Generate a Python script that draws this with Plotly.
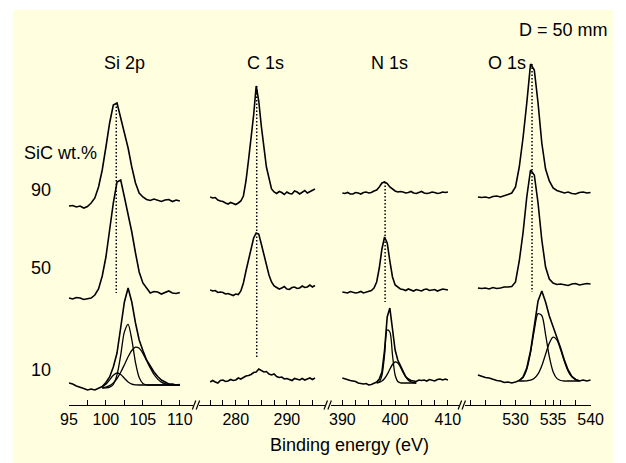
import plotly.graph_objects as go

W, H = 626, 463
AXIS_Y = 405  # pixel row of the energy axis line

# ---------------- XPS data (intensity in a.u., before stacking) ----------------
si_energy = [95.0, 95.5, 96.0, 96.5, 97.0, 97.5, 98.0, 98.5, 99.0, 99.5, 100.0, 100.5,
             101.0, 101.5, 102.0, 102.5, 103.0, 103.5, 104.0, 104.5, 105.0, 105.5, 106.0,
             106.5, 107.0, 107.5, 108.0, 108.5, 109.0, 109.5, 110.0]
si_90 = [19, 19.5, 18, 19, 17, 18.5, 22, 27, 38, 55, 78, 102, 120, 122, 107, 93, 77,
         58, 42, 32, 28, 25.5, 24.5, 26, 25, 23.5, 25, 25.5, 23.5, 25, 24]
si_50 = [17, 16, 17.5, 17, 15.5, 16, 17, 20, 26, 39, 58, 85, 112, 133, 135, 118, 102,
         83, 62, 43, 32, 27, 22, 23.5, 23, 21, 22.5, 24, 22, 21.5, 22.5]
si_10 = [22, 21, 19, 18, 16.5, 15, 16, 15, 16.5, 18.5, 22.5, 28, 38, 52, 77.5, 103,
         117, 103, 82, 65, 54.5, 45, 39, 33, 28.5, 25, 23, 21, 21, 20, 20.5]
si_fit_energy = [99.5, 100.0, 100.5, 101.0, 101.5, 102.0, 102.5, 103.0, 103.5, 104.0,
                 104.5, 105.0, 105.5, 106.0, 106.5, 107.0, 107.5, 108.0, 108.5, 109.0,
                 109.5, 110.0]
si_fit_1 = [17, 17.1, 17.8, 20.7, 30.1, 49.9, 73.1, 80.7, 65.4, 42.4, 27.4, 21.6, 20.2,
            20, 20, 20, 20, 20, 20, 20, 20, 20]
si_fit_2 = [17.3, 17.9, 19.4, 22.1, 26.5, 32.7, 40.3, 48.2, 54.5, 57.8, 56.7, 51.7, 44.5,
            37, 30.5, 25.9, 22.9, 21.3, 20.5, 20.2, 20, 20]
si_fit_3 = [18.4, 20.8, 25.2, 29.7, 32, 30.5, 26.7, 23, 20.9, 20.2, 20, 20, 20, 20, 20,
            20, 20, 20, 20, 20, 20, 20]

c_energy = [275.0, 275.5, 276.0, 276.5, 277.0, 277.5, 278.0, 278.5, 279.0, 279.5, 280.0,
            280.5, 281.0, 281.5, 282.0, 282.5, 283.0, 283.5, 284.0, 284.5, 285.0, 285.5,
            286.0, 286.5, 287.0, 287.5, 288.0, 288.5, 289.0, 289.5, 290.0, 290.5, 291.0,
            291.5, 292.0, 292.5, 293.0, 293.5, 294.0, 294.5, 295.0, 295.5]
c_90 = [28, 27, 27.5, 25, 24, 23.5, 22, 21, 22.5, 21.5, 20.5, 22, 24, 29, 44, 65, 86, 110,
        139, 124, 99, 76, 58, 47, 36, 33, 31.5, 33.5, 32.5, 30.5, 33, 31.5, 31, 34, 33, 31,
        32.5, 34.5, 32, 33.5, 35, 36]
c_50 = [25, 24, 24.5, 22.5, 23, 22.5, 21, 21.5, 20.5, 19.5, 21, 20.5, 24, 32, 44, 55, 66,
        77, 82, 81, 71, 61, 49, 40, 33, 29, 27.5, 26, 27, 28.5, 26, 25.5, 27.5, 28, 26.5,
        27, 29, 27.5, 28, 30, 28, 29.5]
c_10 = [23, 24.5, 23, 22, 24.5, 25, 23.5, 24, 25.5, 24.5, 25, 27, 26, 27.5, 29, 29.5, 30.5,
        32.5, 33, 36, 34.5, 33, 33.5, 31, 30, 31, 28.5, 27.5, 28, 26, 26.5, 25.5, 24.5,
        26.5, 25.5, 25, 26.5, 25, 26, 27, 25.5, 27]

n_energy = [390.0, 390.5, 391.0, 391.5, 392.0, 392.5, 393.0, 393.5, 394.0, 394.5, 395.0,
            395.5, 396.0, 396.5, 397.0, 397.5, 398.0, 398.5, 399.0, 399.5, 400.0, 400.5,
            401.0, 401.5, 402.0, 402.5, 403.0, 403.5, 404.0, 404.5, 405.0, 405.5, 406.0,
            406.5, 407.0, 407.5, 408.0, 408.5, 409.0, 409.5, 410.0]
n_90 = [32, 31.5, 32.5, 31, 31, 32.5, 32, 31, 32.5, 33, 32, 32.5, 34, 35, 38, 42, 43, 41.5,
        38, 35.5, 34, 33, 33.5, 33, 32, 32.5, 33.5, 32, 31.5, 32.5, 33.5, 32, 31.5, 32, 33,
        32.5, 31.5, 32, 33, 32.5, 33]
n_50 = [23, 22.5, 22, 23.5, 23, 22, 22.5, 23.5, 22, 23, 23.5, 24.5, 27, 33, 47, 66, 78, 72,
        54, 38, 30, 27.5, 26, 25.5, 24.5, 26, 25, 24, 25.5, 25, 24, 25.5, 26, 24.5, 25, 25.5,
        24, 25, 26, 25.5, 25]
n_10 = [27, 26, 25.5, 24.5, 24, 23.5, 22, 21.5, 21, 21.5, 20, 20.5, 21.5, 23, 26, 33, 55,
        88, 97, 74, 55, 45, 39, 33, 28.5, 26, 24.5, 24, 23.5, 25, 24.5, 25, 24, 25.5, 25,
        24, 25.5, 26, 25, 26, 25]
n_fit_energy = [396.5, 397.0, 397.5, 398.0, 398.5, 399.0, 399.5, 400.0, 400.5, 401.0,
                401.5, 402.0, 402.5, 403.0, 403.5, 404.0]
n_fit_1 = [22.1, 23.2, 29.6, 50, 75, 73, 50, 30, 23.5, 22.2, 22, 22, 22, 22, 22, 22]
n_fit_2 = [22.2, 22.7, 24, 26.5, 30.6, 35.8, 40.5, 43, 41.9, 37.9, 32.6, 28, 24.8, 23.1,
           22.4, 22]

o_energy = [525.0, 525.5, 526.0, 526.5, 527.0, 527.5, 528.0, 528.5, 529.0, 529.5, 530.0,
            530.5, 531.0, 531.5, 532.0, 532.5, 533.0, 533.5, 534.0, 534.5, 535.0, 535.5,
            536.0, 536.5, 537.0, 537.5, 538.0, 538.5, 539.0, 539.5, 540.0]
o_90 = [28, 27.5, 28, 27, 28.5, 29, 28, 29, 30.5, 32, 38, 58, 87, 122, 161, 155, 122, 82,
        56, 44, 37, 34.5, 33, 32, 33, 31.5, 31, 32.5, 33, 32, 32.5]
o_50 = [27, 26.5, 27, 26, 27.5, 26.5, 27, 28, 28, 28.5, 33, 54, 82, 118, 145, 140, 112, 75,
        48, 36, 32, 30.5, 31, 30, 29.5, 31, 31.5, 30, 30.5, 31.5, 31]
o_10 = [30, 28.5, 27.5, 27, 25.5, 24.5, 24, 22.5, 23, 22, 23, 24.5, 28, 37, 54, 80, 104,
        114, 103, 89, 79, 69, 57, 45, 35, 28.5, 25.5, 24, 25, 24, 25]
o_fit_energy = [530.5, 531.0, 531.5, 532.0, 532.5, 533.0, 533.5, 534.0, 534.5, 535.0,
                535.5, 536.0, 536.5, 537.0, 537.5, 538.0, 538.5]
o_fit_1 = [24.8, 27.5, 35.6, 52.4, 75, 91.3, 89.3, 70.5, 48.3, 33.3, 26.6, 24.5, 24, 24,
           24, 24, 24]
o_fit_2 = [24, 24, 24.2, 24.8, 26.7, 31.1, 39.3, 50.7, 61.9, 67.8, 65.2, 55.5, 43.6, 33.9,
           28.1, 25.4, 24.3]

# SiC content of each stacked row and its vertical offset (a.u.)
sic_rows = ["90", "50", "10"]
row_offsets = [180, 90, 0]

# Peak-position guides: energy and lower end (a.u.); upper end is the 90 wt.% peak
guide_energy = [101.4, 284.1, 398.1, 532.2]
guide_low = [112, 47, 103, 113]

panel_names = ["Si 2p", "C 1s", "N 1s", "O 1s"]
tick_labels = [["95", "100", "105", "110"], ["280", "290"], ["390", "400", "410"],
               ["530", "535", "540"]]

panels = [
    dict(energy=si_energy, rows=[si_90, si_50, si_10],
         fit_energy=si_fit_energy, fits=[si_fit_1, si_fit_2, si_fit_3]),
    dict(energy=c_energy, rows=[c_90, c_50, c_10], fit_energy=None, fits=[]),
    dict(energy=n_energy, rows=[n_90, n_50, n_10],
         fit_energy=n_fit_energy, fits=[n_fit_1, n_fit_2]),
    dict(energy=o_energy, rows=[o_90, o_50, o_10],
         fit_energy=o_fit_energy, fits=[o_fit_1, o_fit_2]),
]

# ---------------- axis geometry (pixels) for the broken energy axis ----------------
axis_px = [(62, 191), (197, 327), (334, 466), (473, 603)]
axis_range = [(94.98, 111.82), (272.83, 297.36), (387.9, 412.03), (523.33, 540.02)]
minor_step = [2.5, 2.5, 2.5, 2.0]

INK = "#000000"
BG = "#FFFFE0"
FONT = "Liberation Sans, Arial, Helvetica, sans-serif"

fig = go.Figure()

for i, p in enumerate(panels):
    xa = "x" if i == 0 else f"x{i + 1}"
    for vals, off in zip(p["rows"], row_offsets):
        fig.add_trace(go.Scatter(
            x=p["energy"], y=[v + off for v in vals], mode="lines",
            line=dict(color=INK, width=1.6), xaxis=xa, yaxis="y",
            hoverinfo="skip", showlegend=False))
    for comp in p["fits"]:
        fig.add_trace(go.Scatter(
            x=p["fit_energy"], y=comp, mode="lines",
            line=dict(color=INK, width=1.3, shape="spline", smoothing=0.8),
            xaxis=xa, yaxis="y", hoverinfo="skip", showlegend=False))
    top = max(p["rows"][0]) + row_offsets[0]
    fig.add_trace(go.Scatter(
        x=[guide_energy[i], guide_energy[i]], y=[top, guide_low[i]], mode="lines",
        line=dict(color=INK, width=1.5, dash="1.5px,2px"),
        xaxis=xa, yaxis="y", hoverinfo="skip", showlegend=False))

layout = dict(
    width=W, height=H,
    margin=dict(l=0, r=0, t=0, b=0),
    paper_bgcolor="white", plot_bgcolor="rgba(0,0,0,0)",
    font=dict(family=FONT, size=16, color=INK),
    showlegend=False,
    yaxis=dict(domain=[(H - AXIS_Y) / H, 1], range=[0, AXIS_Y], visible=False,
               fixedrange=True),
)

for i, ((x0, x1), rng, lbls, mstep) in enumerate(zip(axis_px, axis_range, tick_labels,
                                                     minor_step)):
    key = "xaxis" if i == 0 else f"xaxis{i + 1}"
    layout[key] = dict(
        domain=[x0 / W, x1 / W], range=list(rng), anchor="y",
        showline=True, linecolor=INK, linewidth=1.4,
        showgrid=False, zeroline=False,
        ticks="inside", ticklen=5, tickwidth=1.2, tickcolor=INK,
        tickmode="array", tickvals=[float(t) for t in lbls], ticktext=lbls,
        tickfont=dict(family=FONT, size=16, color=INK),
        minor=dict(ticks="inside", ticklen=5, tickwidth=1.2, tickcolor=INK,
                   dtick=mstep, tick0=float(lbls[0]), showgrid=False),
        fixedrange=True,
    )

fig.update_layout(**layout)


def px(x):
    return x / W


def py(y):
    return 1 - y / H


# light-yellow panel behind the plot
shapes = [dict(type="rect", xref="paper", yref="paper", x0=px(4), x1=1, y0=0, y1=py(9.5),
               fillcolor=BG, line=dict(width=0), layer="below")]

# axis-break marks "//"
for c in [194.0, 330.5, 469.5]:
    for dx in (-2.2, 1.8):
        shapes.append(dict(type="line", xref="paper", yref="paper",
                           x0=px(c + dx - 1.8), y0=py(AXIS_Y + 4.5),
                           x1=px(c + dx + 1.8), y1=py(AXIS_Y - 4.5),
                           line=dict(color=INK, width=1.2)))
fig.update_layout(shapes=shapes)

annotations = []
title_x = [120, 266, 394, 516]
for name, tx in zip(panel_names, title_x):
    annotations.append(dict(text=name, x=px(tx), y=py(63), xanchor="center",
                            yanchor="middle"))
annotations.append(dict(text="SiC wt.%", x=px(53), y=py(153), xanchor="center",
                        yanchor="middle"))
for lbl, ly in zip(sic_rows, [190, 268, 370]):
    annotations.append(dict(text=lbl, x=px(46), y=py(ly), xanchor="right",
                            yanchor="middle"))
annotations.append(dict(text="D = 50 mm", x=px(623), y=py(30), xanchor="right",
                        yanchor="middle"))
annotations.append(dict(text="Binding energy (eV)", x=px(353), y=py(445),
                        xanchor="center", yanchor="middle"))
for a in annotations:
    a.update(xref="paper", yref="paper", showarrow=False,
             font=dict(family=FONT, size=18, color=INK))
fig.update_layout(annotations=annotations)

fig.write_html("out.html")
